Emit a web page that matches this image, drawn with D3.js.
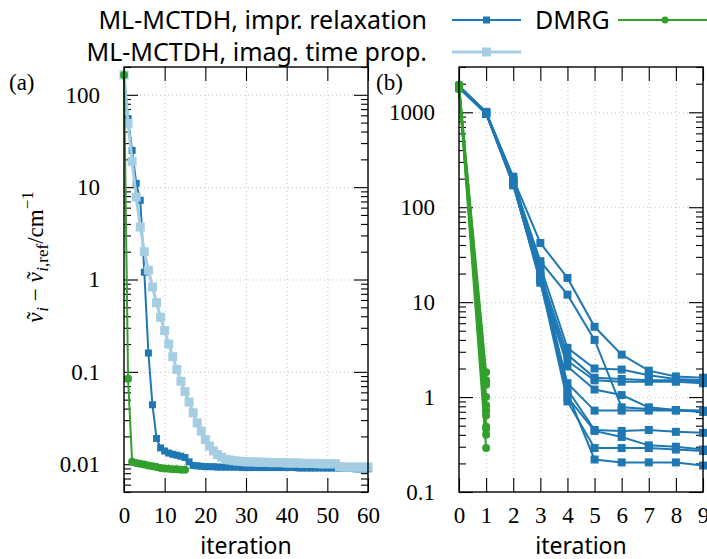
<!DOCTYPE html>
<html>
<head>
<meta charset="utf-8">
<script src="https://cdn.jsdelivr.net/npm/d3@7"></script>
<style>
body { margin: 0; background: #fff; }
svg { display: block; }
.num { font-family: "Liberation Serif", serif; font-size: 23px; }
.sans { font-family: "Noto Sans", sans-serif; }
</style>
</head>
<body>
<svg id="chart" width="707" height="559"></svg>
<script>
// panel (a): error of one mode vs iteration
var relaxA = [164, 55, 25, 11, 7.2, 1.2, 0.16, 0.044, 0.019, 0.015,
  0.0139, 0.0132, 0.0128, 0.0125, 0.0122, 0.0118, 0.0106, 0.0097, 0.0096, 0.0095,
  0.0094, 0.0094, 0.0094, 0.0093, 0.0093, 0.0093, 0.0093, 0.0093, 0.0093, 0.0092,
  0.0092, 0.0092, 0.0092, 0.0092, 0.0092, 0.0092, 0.0092, 0.0092, 0.0092, 0.0092,
  0.0092, 0.0092, 0.0092, 0.0091, 0.0091, 0.0091, 0.0091, 0.0091, 0.0091, 0.0091,
  0.0091, 0.0091, 0.0091, 0.0091, 0.0090, 0.0090, 0.0090, 0.0089, 0.0089, 0.0089, 0.0089];
var imagA = [164, 49, 19, 7.8, 3.7, 2.0, 1.26, 0.83, 0.56, 0.39,
  0.28, 0.20, 0.146, 0.106, 0.079, 0.061, 0.047, 0.036, 0.028, 0.0228,
  0.0185, 0.0157, 0.0139, 0.0127, 0.0119, 0.0113, 0.0111, 0.0109, 0.0108, 0.0107,
  0.0106, 0.0106, 0.0106, 0.0105, 0.0105, 0.0105, 0.0104, 0.0104, 0.0104, 0.0104,
  0.0103, 0.0103, 0.0103, 0.0103, 0.0102, 0.0102, 0.0102, 0.0102, 0.0101, 0.0101,
  0.0101, 0.0101, 0.0101, 0.0094, 0.0093, 0.0093, 0.0093, 0.0093, 0.0093, 0.0093, 0.0093];
var dmrgA = [164, 0.084, 0.0106, 0.0103, 0.0101, 0.0099, 0.0097, 0.0095, 0.0093, 0.0091,
  0.0090, 0.0089, 0.0088, 0.0088, 0.0087, 0.0087];

// panel (b): all modes, ML-MCTDH relaxation
var relaxB = [
  [1900, 1000, 200, 42, 18, 5.5, 2.8, 1.9, 1.65, 1.6],
  [1850, 980, 190, 27, 12, 4.0, 0.78, 0.75, 0.73, 0.72],
  [1800, 960, 180, 24, 3.3, 2.0, 1.95, 1.7, 1.55, 1.5],
  [1880, 1000, 210, 20, 2.8, 1.6, 1.55, 1.5, 1.5, 1.45],
  [1850, 990, 170, 18, 2.4, 1.5, 1.45, 1.45, 1.45, 1.4],
  [1820, 970, 175, 17, 2.1, 1.2, 1.05, 0.78, 0.73, 0.70],
  [1860, 1000, 185, 19, 1.4, 0.72, 0.72, 0.72, 0.72, 0.70],
  [1840, 990, 180, 16, 1.2, 0.45, 0.44, 0.45, 0.43, 0.42],
  [1870, 980, 195, 22, 1.0, 0.44, 0.38, 0.31, 0.30, 0.28],
  [1830, 1000, 175, 17, 0.9, 0.29, 0.29, 0.29, 0.28, 0.27],
  [1890, 1010, 190, 25, 1.1, 0.22, 0.205, 0.205, 0.205, 0.19]
];
// DMRG, iterations 0 and 1
var dmrgB = [
  [1950, 1.83], [1900, 1.5], [1850, 1.35], [1800, 1.0], [1900, 0.82], [1750, 0.72],
  [1850, 0.64], [1800, 0.49], [1950, 0.46], [1850, 0.40], [1800, 0.29]
];

var xTicksA = [0, 10, 20, 30, 40, 50, 60];
var yTicksA = [0.01, 0.1, 1, 10, 100];
var xTicksB = [0, 1, 2, 3, 4, 5, 6, 7, 8, 9];
var yTicksB = [0.1, 1, 10, 100, 1000];

var colRelax = "#1f78b4", colImag = "#a6cee3", colDmrg = "#33a02c";

var svg = d3.select("#chart");
var plotTop = 67, plotBottom = 492;

var xA = d3.scaleLinear().domain([0, 60]).range([124, 368]);
var yA = d3.scaleLog().domain([0.005, 200]).range([plotBottom, plotTop]);
var xB = d3.scaleLinear().domain([0, 9]).range([459, 703]);
var yB = d3.scaleLog().domain([0.1, 3000]).range([plotBottom, plotTop]);

var drawAxes = function(x, y, xTicks, yTicks) {
  var x0 = x.range()[0], x1 = x.range()[1];
  var minors = y.ticks().filter(function(d) {
    return yTicks.indexOf(d) < 0 && Math.abs(Math.log10(d) - Math.round(Math.log10(d))) > 1e-6;
  });

  // dotted grid
  var grid = svg.append("g").classed("grid", true);
  grid.append("g").attr("transform", "translate(" + x0 + ",0)")
      .call(d3.axisLeft(y).tickValues(yTicks).tickSize(-(x1 - x0)).tickFormat(""));
  grid.append("g").attr("transform", "translate(0," + plotBottom + ")")
      .call(d3.axisBottom(x).tickValues(xTicks).tickSize(-(plotBottom - plotTop)).tickFormat(""));
  grid.selectAll(".domain").remove();
  grid.selectAll("line").attr("stroke", "#c4c4c4").attr("stroke-dasharray", "1,3");

  var ax = svg.append("g").classed("axes", true);
  ax.append("g").attr("transform", "translate(" + x0 + ",0)")
    .call(d3.axisLeft(y).tickValues(yTicks).tickSizeInner(-14).tickSizeOuter(0)
          .tickPadding(24).tickFormat(function(d) { return String(d); }));
  ax.append("g").attr("transform", "translate(" + x1 + ",0)")
    .call(d3.axisRight(y).tickValues(yTicks).tickSize(-14).tickFormat(""));
  ax.append("g").attr("transform", "translate(" + x0 + ",0)")
    .call(d3.axisLeft(y).tickValues(minors).tickSize(-7).tickFormat(""));
  ax.append("g").attr("transform", "translate(" + x1 + ",0)")
    .call(d3.axisRight(y).tickValues(minors).tickSize(-7).tickFormat(""));
  ax.append("g").attr("transform", "translate(0," + plotBottom + ")")
    .call(d3.axisBottom(x).tickValues(xTicks).tickSizeInner(-14).tickSizeOuter(0)
          .tickPadding(15).tickFormat(function(d) { return String(d); }));
  ax.append("g").attr("transform", "translate(0," + plotTop + ")")
    .call(d3.axisTop(x).tickValues(xTicks).tickSize(-14).tickFormat(""));
  ax.selectAll(".domain").remove();
  ax.selectAll("line").attr("stroke", "#000").attr("stroke-width", 1.1);
  ax.selectAll("text").attr("class", "num").attr("fill", "#000")
    .attr("font-family", null).attr("font-size", null);

  svg.append("text").classed("sans", true)
     .attr("x", (x0 + x1) / 2).attr("y", 554)
     .attr("text-anchor", "middle").attr("font-size", 23)
     .text("iteration");
};

var drawFrame = function(x) {
  svg.append("rect")
     .attr("x", x.range()[0]).attr("y", plotTop)
     .attr("width", x.range()[1] - x.range()[0]).attr("height", plotBottom - plotTop)
     .attr("fill", "none").attr("stroke", "#000").attr("stroke-width", 1.4);
};

var drawSeries = function(x, y, vals, color, width, marker, size) {
  var line = d3.line().x(function(d, i) { return x(i); }).y(function(d) { return y(d); });
  var g = svg.append("g");
  g.append("path").datum(vals).attr("d", line)
   .attr("fill", "none").attr("stroke", color).attr("stroke-width", width);
  if (marker == "square") {
    g.selectAll("rect").data(vals).enter().append("rect")
     .attr("x", function(d, i) { return x(i) - size / 2; })
     .attr("y", function(d) { return y(d) - size / 2; })
     .attr("width", size).attr("height", size).attr("fill", color);
  } else {
    g.selectAll("circle").data(vals).enter().append("circle")
     .attr("cx", function(d, i) { return x(i); })
     .attr("cy", function(d) { return y(d); })
     .attr("r", size).attr("fill", color);
  }
};

// panel (a)
drawAxes(xA, yA, xTicksA, yTicksA);
drawSeries(xA, yA, relaxA, colRelax, 2, "square", 7);
drawSeries(xA, yA, imagA, colImag, 3, "square", 9);
drawSeries(xA, yA, dmrgA, colDmrg, 2, "circle", 4);
drawFrame(xA);

// panel (b)
drawAxes(xB, yB, xTicksB, yTicksB);
relaxB.forEach(function(s) { drawSeries(xB, yB, s, colRelax, 2, "square", 8); });
dmrgB.forEach(function(s) { drawSeries(xB, yB, s, colDmrg, 2, "circle", 4); });
drawFrame(xB);

// panel letters
svg.append("text").attr("class", "num").attr("font-size", 25).attr("x", 9).attr("y", 90).text("(a)");
svg.append("text").attr("class", "num").attr("font-size", 25).attr("x", 376).attr("y", 90).text("(b)");

// y axis title: nu with tilde drawn as a separate glyph centred over it
var fs = 25, fsSub = 17;
var measure = function(str, italic, size) {
  var t = svg.append("text").attr("class", "num").attr("font-size", size)
    .attr("font-style", italic ? "italic" : "normal").text(str);
  var w = t.node().getComputedTextLength();
  t.remove();
  return w;
};
var nuW = measure("\u03bd", true, fs), tilW = measure("\u02dc", false, fs);
var yt = svg.append("text").attr("class", "num").attr("font-size", fs)
  .attr("text-anchor", "middle")
  .attr("transform", "translate(43,257) rotate(-90)");
var addNu = function() {
  yt.append("tspan").attr("font-style", "italic").text("\u03bd");
  yt.append("tspan").attr("dx", -(nuW + tilW) / 2 + 2).text("\u02dc");
  yt.append("tspan").attr("dx", (nuW - tilW) / 2 - 2).text("");
};
addNu();
yt.append("tspan").attr("font-style", "italic").attr("font-size", fsSub).attr("dy", 5).text("i");
yt.append("tspan").attr("dy", -5).text(" \u2212 ");
addNu();
yt.append("tspan").attr("font-style", "italic").attr("font-size", fsSub).attr("dy", 5).text("i");
yt.append("tspan").attr("font-size", fsSub).text(",ref");
yt.append("tspan").attr("dy", -5).text("/cm");
yt.append("tspan").attr("font-size", fsSub).attr("dy", -10).text("\u22121");

// legend
var legend = svg.append("g").classed("legend", true);
var legendRows = [
  {label: "ML-MCTDH, impr. relaxation", color: colRelax, y: 20, width: 2, marker: "square", size: 7, x0: 452, x1: 521},
  {label: "ML-MCTDH, imag. time prop.", color: colImag, y: 52, width: 3, marker: "square", size: 9, x0: 452, x1: 521},
  {label: "DMRG", color: colDmrg, y: 20, width: 2, marker: "circle", size: 3.5, x0: 618, x1: 712, textX: 535}
];
legendRows.forEach(function(r) {
  var t = legend.append("text").attr("class", "sans").attr("font-size", 25)
    .attr("y", r.y + 9).text(r.label);
  if (r.textX) { t.attr("x", r.textX); } else { t.attr("x", 427).attr("text-anchor", "end"); }
  legend.append("line").attr("x1", r.x0).attr("x2", r.x1).attr("y1", r.y).attr("y2", r.y)
    .attr("stroke", r.color).attr("stroke-width", r.width);
  var mx = r.textX ? 665 : (r.x0 + r.x1) / 2;
  if (r.marker == "square") {
    legend.append("rect").attr("x", mx - r.size / 2).attr("y", r.y - r.size / 2)
      .attr("width", r.size).attr("height", r.size).attr("fill", r.color);
  } else {
    legend.append("circle").attr("cx", mx).attr("cy", r.y).attr("r", r.size).attr("fill", r.color);
  }
});
</script>
</body>
</html>
